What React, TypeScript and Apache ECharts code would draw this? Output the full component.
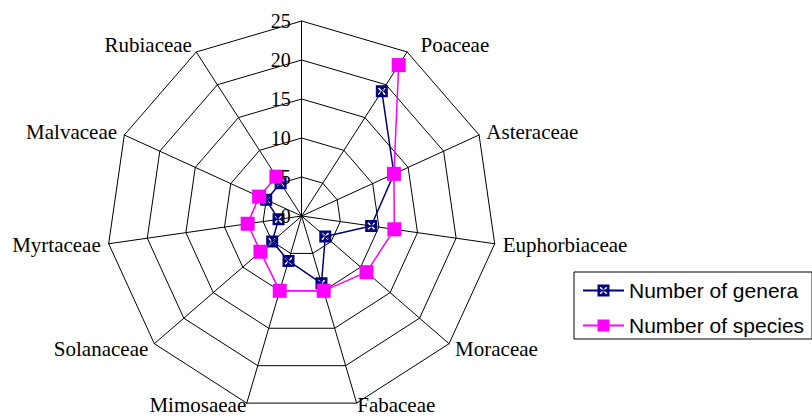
import React, { useEffect, useRef } from "react";
import * as echarts from "echarts";

// Clockwise order starting at the top (the top axis has no family / no data)
const categories = ["", "Poaceae", "Asteraceae", "Euphorbiaceae", "Moraceae", "Fabaceae", "Mimosaeae", "Solanaceae", "Myrtaceae", "Malvaceae", "Rubiaceae"];
const genera: (number | null)[] = [null, 19, 13, 9, 4, 9, 6, 5, 3, 5, 5];
const species: (number | null)[] = [null, 23, 13, 12, 11, 10, 10, 7, 7, 6, 6];
const valueMax = 25;
const valueStep = 5;

const CX = 301.7;
const CY = 216;
const R = 195;

// navy square with a white "X" cut out (hole via opposite winding)
const crossSquare =
  "path://M0 0 L0 10 L10 10 L10 0 Z M2.7 1.8 L5 4.1 L7.3 1.8 L8.2 2.7 L5.9 5 L8.2 7.3 L7.3 8.2 L5 5.9 L2.7 8.2 L1.8 7.3 L4.1 5 L1.8 2.7 Z";

export default function App() {
  const ref = useRef<HTMLDivElement>(null);
  useEffect(() => {
    if (!ref.current) return;
    const chart = echarts.init(ref.current, undefined, { renderer: "svg" });
    const n = categories.length;
    // radar lays indicators out counter-clockwise: reverse (keep top first)
    const ccwOrder = [0, ...Array.from({ length: n - 1 }, (_, k) => n - 1 - k)];
    const indicator = ccwOrder.map((i) => {
      const ind: any = { name: categories[i], min: 0, max: valueMax };
      if (categories[i] === "Fabaceae" || categories[i] === "Mimosaeae") ind.nameGap = 2;
      if (categories[i] === "Poaceae") ind.nameTextStyle = { padding: [4, 0, 0, 9] };
      return ind;
    });
    const toData = (arr: (number | null)[]) =>
      arr.map((v, i) => (v == null ? null : [v, i])).filter((d) => d != null);

    chart.setOption({
      animation: false,
      backgroundColor: "#fff",
      radar: {
        center: [CX, CY],
        radius: R,
        startAngle: 90,
        shape: "polygon",
        splitNumber: valueMax / valueStep,
        indicator,
        nameGap: 8,
        axisName: {
          color: "#000",
          fontFamily: "Liberation Serif",
          fontSize: 21,
          verticalAlign: "middle",
        },
        axisLine: { lineStyle: { color: "#000", width: 1 } },
        splitLine: { lineStyle: { color: "#000", width: 1 } },
        splitArea: { show: false },
        axisTick: { show: false },
        axisLabel: { show: false },
      },
      polar: { center: [CX, CY], radius: R },
      angleAxis: {
        type: "value",
        min: 0,
        max: n,
        startAngle: 90,
        clockwise: true,
        show: false,
      },
      radiusAxis: {
        type: "value",
        min: 0,
        max: valueMax,
        interval: valueStep,
        z: 10,
        axisLine: { show: false },
        axisTick: { show: false },
        splitLine: { show: false },
        axisLabel: {
          show: true,
          color: "#000",
          fontFamily: "Liberation Serif",
          fontSize: 20,
          margin: 11,
          showMinLabel: true,
          showMaxLabel: true,
        },
      },
      legend: {
        left: 574,
        top: 272,
        orient: "vertical",
        backgroundColor: "#fff",
        borderColor: "#000",
        borderWidth: 1,
        borderRadius: 0,
        padding: [8, 8, 3, 8],
        itemWidth: 41,
        itemHeight: 15,
        itemGap: 14,
        textStyle: { color: "#000", fontFamily: "Liberation Sans", fontSize: 21 },
        data: ["Number of genera", "Number of species"],
      },
      series: [
        {
          name: "Number of genera",
          type: "line",
          coordinateSystem: "polar",
          data: toData(genera),
          symbol: crossSquare,
          symbolSize: 12,
          z: 3,
          lineStyle: { color: "#000080", width: 1.5 },
          itemStyle: { color: "#000080" },
        },
        {
          name: "Number of species",
          type: "line",
          coordinateSystem: "polar",
          data: toData(species),
          symbol: "rect",
          symbolSize: 14,
          z: 4,
          lineStyle: { color: "#ff00ff", width: 1.5 },
          itemStyle: { color: "#ff00ff" },
        },
      ],
    });
    return () => chart.dispose();
  }, []);
  return (
    <div
      ref={ref}
      style={{ position: "fixed", left: 0, top: 0, width: 812, height: 416, background: "#fff" }}
    />
  );
}
